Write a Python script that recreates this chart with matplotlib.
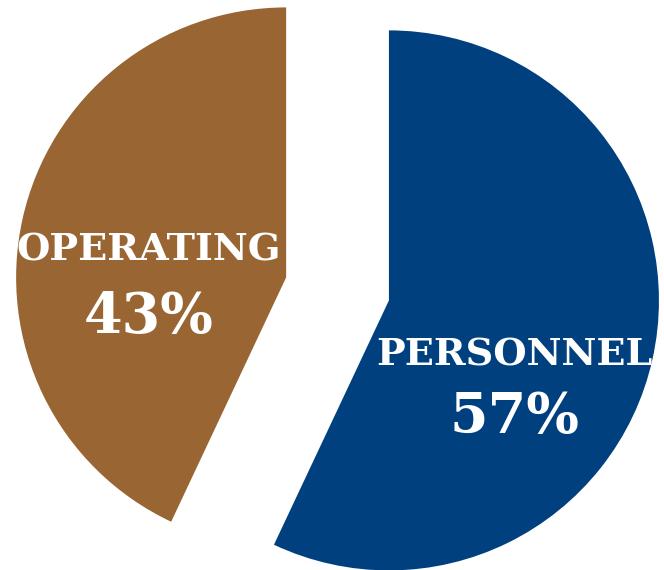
import matplotlib
matplotlib.use("Agg")
import matplotlib.pyplot as plt

# budget split
labels = ["PERSONNEL", "OPERATING"]
shares = [57, 43]
colors = ["#00407F", "#996633"]
explode = [0.195, 0.195]

# where the two-line captions sit (data units, pie radius = 1)
name_pos = [(0.654, -0.244), (-0.70, 0.144)]
pct_pos = [(0.654, -0.478), (-0.70, -0.107)]

fig = plt.figure(figsize=(6.64, 5.70), dpi=100)
ax = fig.add_axes([0, 0, 1, 1])

ax.pie(shares, colors=colors, explode=explode, startangle=90,
       counterclock=False, radius=1.0,
       wedgeprops=dict(linewidth=0))

for name, pct, npos, ppos in zip(labels, shares, name_pos, pct_pos):
    ax.text(npos[0], npos[1], name, ha="center", va="center",
            color="white", fontsize=27.5, fontweight="bold", family="DejaVu Serif")
    ax.text(ppos[0], ppos[1], "%d%%" % pct, ha="center", va="center",
            color="white", fontsize=40, fontweight="bold", family="DejaVu Serif")

ax.set_aspect("auto")
ax.set_xlim(-1.25, 1.209)
ax.set_ylim(-1.041, 1.070)
ax.axis("off")

fig.savefig("out.png", dpi=100)
